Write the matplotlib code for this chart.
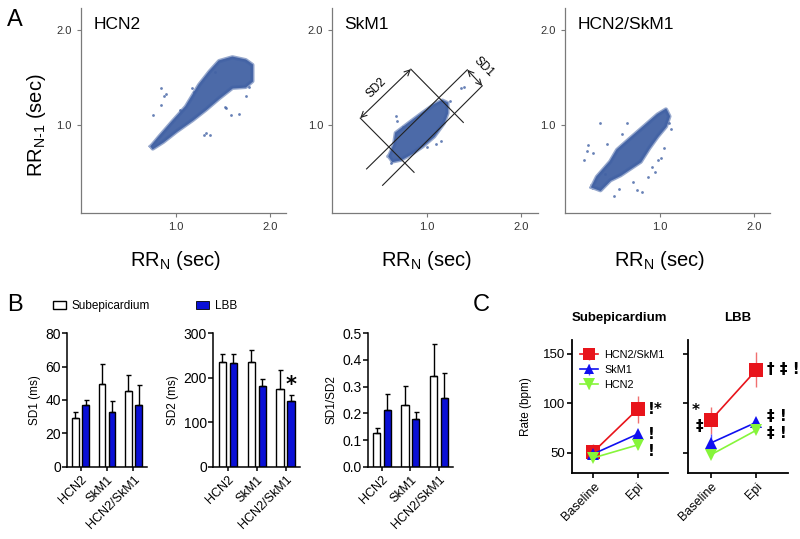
import matplotlib
matplotlib.use('Agg')
import matplotlib.pyplot as plt
from matplotlib.patches import Patch

plt.rcParams['font.family'] = ['Liberation Sans', 'DejaVu Sans']
plt.rcParams['mathtext.fontset'] = 'custom'
plt.rcParams['mathtext.rm'] = 'Liberation Sans'

# ---- panel A: Poincare clouds (outlines) ----
poincare_titles = ['HCN2', 'SkM1', 'HCN2/SkM1']

hcn2_cloud_x = [0.744, 0.832, 0.97, 1.11, 1.25, 1.36, 1.46, 1.60, 1.74, 1.81, 1.81, 1.74,
                1.60, 1.46, 1.32, 1.18, 1.01, 0.87, 0.76]
hcn2_cloud_y = [0.772, 0.877, 1.035, 1.19, 1.42, 1.56, 1.67, 1.71, 1.68, 1.63, 1.46, 1.40,
                1.39, 1.28, 1.16, 1.05, 0.93, 0.82, 0.75]
hcn2_out_x = [0.85, 0.90, 0.88, 0.85, 0.76, 1.32, 1.36, 1.30, 1.59, 1.52, 1.17, 1.67, 1.74,
              1.53, 1.05, 1.20, 1.42, 1.78]
hcn2_out_y = [1.39, 1.32, 1.30, 1.21, 1.105, 0.91, 0.895, 0.89, 1.105, 1.19, 1.39, 1.11, 1.30,
              1.18, 1.16, 1.34, 1.56, 1.40]

skm1_cloud_x = [0.603, 0.656, 0.674, 0.814, 0.955, 1.077, 1.165, 1.218, 1.218, 1.18, 1.077,
                0.955, 0.85, 0.726, 0.64]
skm1_cloud_y = [0.667, 0.789, 0.912, 1.018, 1.123, 1.21, 1.253, 1.228, 1.123, 1.018, 0.877,
                0.772, 0.70, 0.632, 0.614]
skm1_out_x = [1.39, 1.36, 0.674, 0.69, 1.147, 1.0, 0.62, 1.25, 0.75, 1.10]
skm1_out_y = [1.40, 1.386, 1.088, 1.04, 0.825, 0.76, 0.60, 1.25, 0.98, 0.80]

combo_cloud_x = [0.287, 0.34, 0.48, 0.553, 0.695, 0.837, 0.979, 1.067, 1.103, 1.067, 0.979,
                 0.89, 0.80, 0.695, 0.588, 0.48, 0.376]
combo_cloud_y = [0.344, 0.45, 0.61, 0.734, 0.859, 0.982, 1.106, 1.16, 1.088, 0.982, 0.876,
                 0.752, 0.61, 0.54, 0.468, 0.415, 0.31]
combo_out_x = [0.376, 0.25, 0.20, 0.66, 1.05, 0.98, 0.95, 0.766, 0.81, 0.57, 1.10, 1.02, 0.42,
               0.30, 0.88, 1.12, 0.52, 0.45, 0.60, 0.92, 0.23, 0.72]
combo_out_y = [1.018, 0.787, 0.628, 1.018, 0.752, 0.628, 0.50, 0.31, 0.29, 0.327, 1.02, 0.65,
               0.48, 0.70, 0.45, 0.95, 0.25, 0.80, 0.90, 0.55, 0.72, 0.40]

clouds_x = [hcn2_cloud_x, skm1_cloud_x, combo_cloud_x]
clouds_y = [hcn2_cloud_y, skm1_cloud_y, combo_cloud_y]
outliers_x = [hcn2_out_x, skm1_out_x, combo_out_x]
outliers_y = [hcn2_out_y, skm1_out_y, combo_out_y]

# SD1 / SD2 guide lines drawn on the SkM1 plot
guide_lines = [((0.365, 0.534), (1.428, 1.579)),
               ((0.534, 0.361), (1.586, 1.41)),
               ((0.832, 1.586), (1.386, 1.024)),
               ((0.298, 1.07), (0.866, 0.498))]
sd1_arrow = ((1.428, 1.579), (1.586, 1.41))
sd2_arrow = ((0.298, 1.07), (0.832, 1.586))

# ---- panel B: bar charts ----
groups = ['HCN2', 'SkM1', 'HCN2/SkM1']
sd1_epi = [29.1, 49.4, 45.4]
sd1_epi_err = [3.7, 11.9, 9.5]
sd1_lbb = [36.8, 32.8, 37.2]
sd1_lbb_err = [3.4, 6.4, 12.0]
sd2_epi = [234.4, 235.9, 175.6]
sd2_epi_err = [18.1, 26.1, 41.4]
sd2_lbb = [232.0, 180.9, 147.0]
sd2_lbb_err = [22.0, 17.1, 15.0]
ratio_epi = [0.127, 0.230, 0.339]
ratio_epi_err = [0.018, 0.071, 0.121]
ratio_lbb = [0.211, 0.177, 0.259]
ratio_lbb_err = [0.060, 0.028, 0.093]

bar_panels = [
    ('SD1 (ms)', sd1_epi, sd1_epi_err, sd1_lbb, sd1_lbb_err, 80, [0, 20, 40, 60, 80], None),
    ('SD2 (ms)', sd2_epi, sd2_epi_err, sd2_lbb, sd2_lbb_err, 300, [0, 100, 200, 300], 2),
    ('SD1/SD2', ratio_epi, ratio_epi_err, ratio_lbb, ratio_lbb_err, 0.5,
     [0.0, 0.1, 0.2, 0.3, 0.4, 0.5], None),
]

# ---- panel C: rates ----
conditions = ['Baseline', 'Epi']
epi_combo = [51, 94]
epi_combo_err = [8, 13.5]
epi_skm1 = [49, 69]
epi_skm1_err = [4, 3]
epi_hcn2 = [45, 58]
epi_hcn2_err = [3, 4]
lbb_combo = [83, 134]
lbb_combo_err = [13.5, 17.5]
lbb_skm1 = [60, 81]
lbb_skm1_err = [9, 3]
lbb_hcn2 = [48, 73]
lbb_hcn2_err = [3, 3]

CLOUD = '#4262a4'
BLUE = '#0a10d6'
RED = '#e8141b'
TRI_BLUE = '#1010f0'
GREEN = '#86f53a'

fig = plt.figure(figsize=(8, 5.39), dpi=100)

# ---------------- A ----------------
a_lefts = [0.101, 0.415, 0.706]
for i in range(3):
    ax = fig.add_axes([a_lefts[i], 0.605, 0.257, 0.380])
    cx_closed = clouds_x[i] + clouds_x[i][:1]
    cy_closed = clouds_y[i] + clouds_y[i][:1]
    ax.plot(cx_closed, cy_closed, color=CLOUD, lw=3.2, alpha=0.55, zorder=2,
            solid_joinstyle='round')
    ax.fill(clouds_x[i], clouds_y[i], facecolor=CLOUD, edgecolor=CLOUD, lw=1.2, alpha=0.95,
            zorder=2)
    ax.scatter(outliers_x[i], outliers_y[i], s=4, color=CLOUD, alpha=0.8, lw=0, zorder=2)
    ax.set_xlim(0, 2.17)
    ax.set_ylim(0.07, 2.23)
    ax.set_xticks([1.0, 2.0])
    ax.set_yticks([1.0, 2.0])
    ax.set_xticklabels(['1.0', '2.0'])
    ax.set_yticklabels(['1.0', '2.0'])
    for side in ['top', 'right']:
        ax.spines[side].set_visible(False)
    for side in ['left', 'bottom']:
        ax.spines[side].set_color('#7a7a7a')
        ax.spines[side].set_linewidth(0.9)
    ax.tick_params(colors='#7a7a7a', labelcolor='#333333', labelsize=8, length=3, width=0.8)
    ax.text(0.06, 0.92, poincare_titles[i], transform=ax.transAxes, fontsize=12.5,
            va='center', ha='left')
    ax.text(0.46, -0.23, r'RR$_\mathregular{N}$ (sec)', transform=ax.transAxes,
            fontsize=14.5, ha='center', va='center')
    if i == 1:
        for (p0, p1) in guide_lines:
            ax.plot([p0[0], p1[0]], [p0[1], p1[1]], color='#222222', lw=0.8, zorder=3)
        for arr in [sd1_arrow, sd2_arrow]:
            ax.annotate('', xy=arr[1], xytext=arr[0],
                        arrowprops=dict(arrowstyle='<->', color='#222222', lw=0.8,
                                        shrinkA=0, shrinkB=0))
        ax.text(0.47, 1.39, 'SD2', rotation=45, fontsize=8.5, ha='center', va='center')
        ax.text(1.60, 1.61, 'SD1', rotation=-45, fontsize=8.5, ha='center', va='center')

fig.text(0.046, 0.768, r'RR$_\mathregular{N\text{-}1}$ (sec)', rotation=90, fontsize=14.5,
         ha='center', va='center')

# ---------------- B ----------------
b_pos = [[0.0841, 0.134, 0.0993, 0.248],
         [0.2666, 0.134, 0.1084, 0.248],
         [0.4596, 0.134, 0.107, 0.248]]
xs = list(range(len(groups)))
bw = 0.25
off = 0.19
for k, (lab, ev, ee, lv, le, top, ticks, star) in enumerate(bar_panels):
    ax = fig.add_axes(b_pos[k])
    ax.bar([x - off for x in xs], ev, bw, color='white', edgecolor='black', lw=1.0,
           yerr=[[0] * 3, ee], error_kw=dict(ecolor='black', elinewidth=1.0, capsize=1.8,
                                               capthick=1.0), zorder=2)
    ax.bar([x + off for x in xs], lv, bw, color=BLUE, edgecolor='black', lw=1.0,
           yerr=[[0] * 3, le], error_kw=dict(ecolor='black', elinewidth=1.0, capsize=1.8,
                                               capthick=1.0), zorder=2)
    ax.set_xlim(-0.5, 2.5)
    ax.set_ylim(0, top)
    ax.set_yticks(ticks)
    if top < 1:
        ax.set_yticklabels(['%.1f' % t for t in ticks])
    ax.set_xticks(xs)
    ax.set_xticklabels(groups, rotation=45, ha='right', rotation_mode='anchor', fontsize=9)
    for side in ['top', 'right']:
        ax.spines[side].set_visible(False)
    for side in ['left', 'bottom']:
        ax.spines[side].set_linewidth(1.1)
    ax.tick_params(axis='y', labelsize=10, length=3.5, width=1.1, pad=1)
    ax.tick_params(axis='x', length=3, width=1.1, pad=2)
    ax.set_ylabel(lab, fontsize=8.5, labelpad=3)
    if star is not None:
        ax.text(star + off, lv[star] + le[star] - top * 0.005, '*', fontsize=15,
                fontweight='bold', ha='center', va='bottom', family='DejaVu Sans')

fig.legend(handles=[Patch(facecolor='white', edgecolor='black', lw=1.0),
                    Patch(facecolor=BLUE, edgecolor='black', lw=0.6)],
           labels=['Subepicardium', 'LBB'], ncol=2, loc='center left',
           bbox_to_anchor=(0.066, 0.432), frameon=False, fontsize=8.5,
           handlelength=1.1, handleheight=0.55, handletextpad=0.5, columnspacing=3.9,
           borderpad=0, borderaxespad=0)

# ---------------- C ----------------
c_pos = [[0.7146, 0.123, 0.1204, 0.246],
         [0.8604, 0.123, 0.1246, 0.246]]
c_titles = ['Subepicardium', 'LBB']
c_series = [
    [(epi_combo, epi_combo_err), (epi_skm1, epi_skm1_err), (epi_hcn2, epi_hcn2_err)],
    [(lbb_combo, lbb_combo_err), (lbb_skm1, lbb_skm1_err), (lbb_hcn2, lbb_hcn2_err)],
]
styles = [('HCN2/SkM1', RED, 's', 10, '#f07070'),
          ('SkM1', TRI_BLUE, '^', 8.5, '#5050ff'),
          ('HCN2', GREEN, 'v', 9, '#a8f080')]
c_notes = [
    [(1.23, 93.5, '!*'), (1.23, 69, '!'), (1.23, 51, '!')],
    [(-0.42, 93, '*'), (-0.33, 77, '‡'), (1.22, 134, '† ‡ !'), (1.22, 87, '‡ !'),
     (1.22, 70, '‡ !')],
]
cx = list(range(len(conditions)))
for k in range(2):
    ax = fig.add_axes(c_pos[k])
    for (vals, errs), (name, col, mk, ms, ecol) in zip(c_series[k], styles):
        ax.errorbar(cx, vals, yerr=errs, color=col, ecolor=ecol, elinewidth=1.0,
                    capsize=3.5, capthick=1.0, lw=1.2, marker=mk, markersize=ms,
                    markeredgewidth=0, label=name, zorder=3)
    ax.set_xlim(-0.49, 1.69)
    ax.set_ylim(30, 164)
    ax.set_yticks([50, 100, 150])
    ax.set_xticks(cx)
    ax.set_xticklabels(conditions, rotation=45, ha='right', rotation_mode='anchor', fontsize=9)
    for side in ['top', 'right']:
        ax.spines[side].set_visible(False)
    for side in ['left', 'bottom']:
        ax.spines[side].set_linewidth(1.3)
    ax.tick_params(axis='y', labelsize=9.5, length=3.5, width=1.2, pad=1)
    ax.tick_params(axis='x', length=3.5, width=1.2, pad=2)
    ax.set_title(c_titles[k], fontsize=9.5, fontweight='bold', pad=14)
    for (tx, ty, s) in c_notes[k]:
        ax.text(tx, ty, s, fontsize=11, fontweight='bold', ha='left', va='center',
                family='DejaVu Sans', zorder=5, clip_on=False)
    if k == 1:
        ax.set_yticklabels([])
    else:
        ax.set_ylabel('Rate (bpm)', fontsize=8.5, labelpad=8)
        ax.legend(loc='upper left', bbox_to_anchor=(0.0, 0.99), frameon=False, fontsize=7.8,
                  handlelength=1.6, handletextpad=0.6, labelspacing=0.45, borderpad=0.3,
                  numpoints=1, markerscale=0.9)

fig.text(0.019, 0.963, 'A', fontsize=17, ha='center', va='center')
fig.text(0.019, 0.434, 'B', fontsize=17, ha='center', va='center')
fig.text(0.601, 0.434, 'C', fontsize=17, ha='center', va='center')

fig.savefig('out.png', dpi=100)
